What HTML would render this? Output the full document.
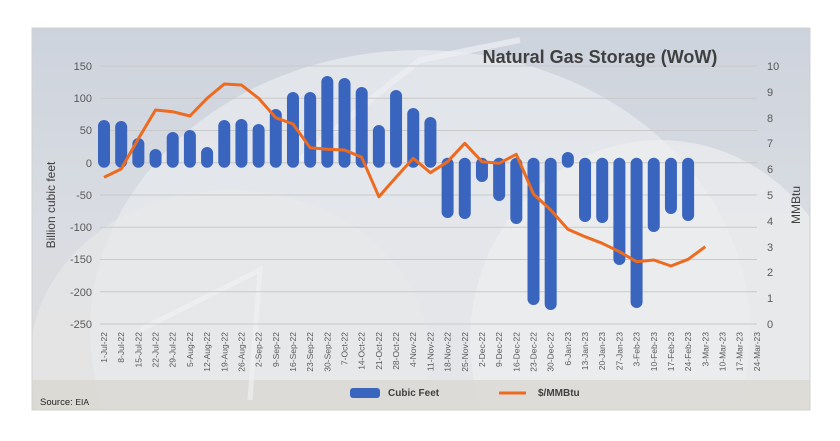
<!DOCTYPE html>
<html><head><meta charset="utf-8"><style>
html,body{margin:0;padding:0;background:#fff;overflow:hidden;width:840px;height:441px;}
svg{display:block;font-family:"Liberation Sans",sans-serif;}
</style></head><body>
<svg width="840" height="441" viewBox="0 0 840 441" xmlns="http://www.w3.org/2000/svg">
<defs>
<clipPath id="c"><rect x="32" y="28" width="778" height="382"/></clipPath>
<linearGradient id="bg" x1="0" y1="0" x2="0" y2="1">
<stop offset="0" stop-color="#cdd3dd"/><stop offset="0.5" stop-color="#d9dce2"/><stop offset="1" stop-color="#dcdcdc"/></linearGradient>
</defs>
<g clip-path="url(#c)">
<rect x="32" y="28" width="778" height="382" fill="url(#bg)"/>
<ellipse cx="420" cy="330" rx="330" ry="280" fill="#e6e8ec" opacity="0.8"/>
<ellipse cx="660" cy="340" rx="190" ry="200" fill="#eceef0" opacity="0.7"/>
<ellipse cx="230" cy="360" rx="200" ry="170" fill="#eaeaea" opacity="0.6"/>
<rect x="32" y="380" width="778" height="30" fill="#d8d6cf" opacity="0.7"/>
<path d="M300 160 L370 100 L420 60 L520 40" stroke="#eef0f3" stroke-width="6" fill="none" opacity="0.7"/>
<path d="M140 330 L260 270 L250 400" stroke="#f2f2f2" stroke-width="5" fill="none" opacity="0.6"/>
</g>
<rect x="32" y="28" width="778" height="382" fill="none" stroke="#d0d0d0" stroke-width="1"/>
<g stroke="#c9c9c9" stroke-width="1">
<line x1="100" x2="757" y1="66" y2="66"/><line x1="100" x2="757" y1="98.3" y2="98.3"/>
<line x1="100" x2="757" y1="130.5" y2="130.5"/><line x1="100" x2="757" y1="162.8" y2="162.8"/>
<line x1="100" x2="757" y1="195" y2="195"/><line x1="100" x2="757" y1="227.3" y2="227.3"/>
<line x1="100" x2="757" y1="259.5" y2="259.5"/><line x1="100" x2="757" y1="291.8" y2="291.8"/>
<line x1="100" x2="757" y1="324" y2="324"/>
</g>
<g font-size="11" fill="#595959" text-anchor="end">
<text x="92" y="70">150</text><text x="92" y="102">100</text><text x="92" y="134">50</text>
<text x="92" y="167">0</text><text x="92" y="199">-50</text><text x="92" y="231">-100</text>
<text x="92" y="263">-150</text><text x="92" y="296">-200</text><text x="92" y="328">-250</text>
</g>
<g font-size="11" fill="#595959">
<text x="767" y="70">10</text><text x="767" y="96">9</text><text x="767" y="122">8</text>
<text x="767" y="147">7</text><text x="767" y="173">6</text><text x="767" y="199">5</text>
<text x="767" y="225">4</text><text x="767" y="251">3</text><text x="767" y="276">2</text>
<text x="767" y="302">1</text><text x="767" y="328">0</text>
</g>
<text x="55" y="205" font-size="12" fill="#404040" text-anchor="middle" transform="rotate(-90 55 205)">Billion  cubic feet</text>
<text x="800" y="205" font-size="12" fill="#404040" text-anchor="middle" transform="rotate(-90 800 205)">MMBtu</text>
<text x="600" y="63" font-size="18" font-weight="bold" fill="#404040" text-anchor="middle">Natural Gas Storage (WoW)</text>
<path fill="none" stroke="#3a65be" stroke-width="12" stroke-linecap="round" d="
M104 161.75V126 M121.18 161.75V127 M138.36 161.75V144 M155.54 161.75V155 M172.72 161.75V138
M189.9 161.75V136 M207.08 161.75V153 M224.26 161.75V126 M241.44 161.75V125 M258.62 161.75V130
M275.8 161.75V115 M292.98 161.75V98 M310.16 161.75V98 M327.34 161.75V82 M344.52 161.75V84
M361.7 161.75V93 M378.88 161.75V131 M396.06 161.75V96 M413.24 161.75V114 M430.42 161.75V123
M447.6 163.75V212 M464.78 163.75V213 M481.96 163.75V176 M499.14 163.75V195 M516.32 163.75V218
M533.5 163.75V299 M550.68 163.75V304 M567.86 161.75V158 M585.04 163.75V216 M602.22 163.75V217
M619.4 163.75V259 M636.58 163.75V302 M653.76 163.75V226 M670.94 163.75V208 M688.12 163.75V215"/>
<polyline fill="none" stroke="#ed6b20" stroke-width="3" stroke-linejoin="round" points="104,177.3 121.18,169 138.36,138.7 155.54,110 172.72,111.7 189.9,116 207.08,98.3 224.26,84 241.44,85 258.62,98.3 275.8,117.7 292.98,124 310.16,147.7 327.34,149.3 344.52,150 361.7,157.3 378.88,196.7 396.06,177.3 413.24,158.3 430.42,172.7 447.6,161.7 464.78,143.3 481.96,161.7 499.14,163.3 516.32,154.3 533.5,194 550.68,210 567.86,229.3 585.04,236.7 602.22,243.3 619.4,251.7 636.58,261.7 653.76,260 670.94,266 688.12,259.3 705.3,246.7"/>
<g font-size="8.5" fill="#595959" text-anchor="end">
<text transform="translate(107,332) rotate(-90)">1-Jul-22</text>
<text transform="translate(124.18,332) rotate(-90)">8-Jul-22</text>
<text transform="translate(141.36,332) rotate(-90)">15-Jul-22</text>
<text transform="translate(158.54,332) rotate(-90)">22-Jul-22</text>
<text transform="translate(175.72,332) rotate(-90)">29-Jul-22</text>
<text transform="translate(192.9,332) rotate(-90)">5-Aug-22</text>
<text transform="translate(210.08,332) rotate(-90)">12-Aug-22</text>
<text transform="translate(227.26,332) rotate(-90)">19-Aug-22</text>
<text transform="translate(244.44,332) rotate(-90)">26-Aug-22</text>
<text transform="translate(261.62,332) rotate(-90)">2-Sep-22</text>
<text transform="translate(278.8,332) rotate(-90)">9-Sep-22</text>
<text transform="translate(295.98,332) rotate(-90)">16-Sep-22</text>
<text transform="translate(313.16,332) rotate(-90)">23-Sep-22</text>
<text transform="translate(330.34,332) rotate(-90)">30-Sep-22</text>
<text transform="translate(347.52,332) rotate(-90)">7-Oct-22</text>
<text transform="translate(364.7,332) rotate(-90)">14-Oct-22</text>
<text transform="translate(381.88,332) rotate(-90)">21-Oct-22</text>
<text transform="translate(399.06,332) rotate(-90)">28-Oct-22</text>
<text transform="translate(416.24,332) rotate(-90)">4-Nov-22</text>
<text transform="translate(433.42,332) rotate(-90)">11-Nov-22</text>
<text transform="translate(450.6,332) rotate(-90)">18-Nov-22</text>
<text transform="translate(467.78,332) rotate(-90)">25-Nov-22</text>
<text transform="translate(484.96,332) rotate(-90)">2-Dec-22</text>
<text transform="translate(502.14,332) rotate(-90)">9-Dec-22</text>
<text transform="translate(519.32,332) rotate(-90)">16-Dec-22</text>
<text transform="translate(536.5,332) rotate(-90)">23-Dec-22</text>
<text transform="translate(553.68,332) rotate(-90)">30-Dec-22</text>
<text transform="translate(570.86,332) rotate(-90)">6-Jan-23</text>
<text transform="translate(588.04,332) rotate(-90)">13-Jan-23</text>
<text transform="translate(605.22,332) rotate(-90)">20-Jan-23</text>
<text transform="translate(622.4,332) rotate(-90)">27-Jan-23</text>
<text transform="translate(639.58,332) rotate(-90)">3-Feb-23</text>
<text transform="translate(656.76,332) rotate(-90)">10-Feb-23</text>
<text transform="translate(673.94,332) rotate(-90)">17-Feb-23</text>
<text transform="translate(691.12,332) rotate(-90)">24-Feb-23</text>
<text transform="translate(708.3,332) rotate(-90)">3-Mar-23</text>
<text transform="translate(725.48,332) rotate(-90)">10-Mar-23</text>
<text transform="translate(742.66,332) rotate(-90)">17-Mar-23</text>
<text transform="translate(759.84,332) rotate(-90)">24-Mar-23</text>
</g>
<rect x="350" y="388" width="30" height="10" rx="3" fill="#3a65be"/>
<text x="388" y="396" font-size="10" font-weight="bold" fill="#404040">Cubic Feet</text>
<line x1="499" x2="526" y1="393" y2="393" stroke="#ed6b20" stroke-width="3"/>
<text x="538" y="396" font-size="10" font-weight="bold" fill="#404040">$/MMBtu</text>
<text x="40" y="405" font-size="9.5" fill="#222">Source: <tspan font-size="8.5">EIA</tspan></text>
</svg>
</body></html>
